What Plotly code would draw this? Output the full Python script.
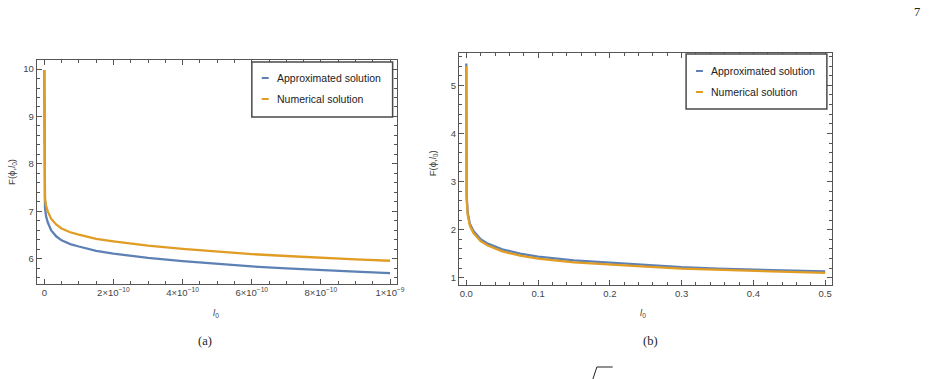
import plotly.graph_objects as go

# ---------------- data ----------------
# panel (a): l0 values
x_a = [0, 0.003e-10, 0.02e-10, 0.05e-10, 0.1e-10, 0.2e-10, 0.35e-10, 0.5e-10, 0.75e-10,
       1.0e-10, 1.5e-10, 2.0e-10, 3.0e-10, 4.0e-10, 5.0e-10, 6.0e-10, 7.0e-10, 8.0e-10,
       9.0e-10, 10.0e-10]
approx_a = [9.98, 7.40, 7.08, 6.90, 6.77, 6.60, 6.47, 6.39, 6.31,
            6.26, 6.17, 6.11, 6.02, 5.95, 5.89, 5.84, 5.80, 5.76, 5.73, 5.70]
numer_a = [9.98, 7.60, 7.28, 7.12, 7.00, 6.84, 6.72, 6.64, 6.56,
           6.51, 6.42, 6.37, 6.28, 6.21, 6.15, 6.10, 6.06, 6.02, 5.99, 5.96]

# panel (b)
x_b = [0, 0.0005, 0.002, 0.005, 0.01, 0.02, 0.03, 0.05, 0.075, 0.1, 0.15, 0.2,
       0.25, 0.3, 0.35, 0.4, 0.45, 0.5]
approx_b = [5.45, 2.70, 2.35, 2.12, 1.97, 1.80, 1.71, 1.59, 1.50, 1.44, 1.36, 1.31,
            1.26, 1.22, 1.19, 1.17, 1.15, 1.13]
numer_b = [5.40, 2.65, 2.30, 2.08, 1.93, 1.76, 1.67, 1.55, 1.46, 1.40, 1.32, 1.27,
           1.23, 1.19, 1.165, 1.14, 1.12, 1.10]

series_names = ["Approximated solution", "Numerical solution"]
series_colors = ["#5E81B5", "#E19C24"]

xa_tickvals = [0, 2e-10, 4e-10, 6e-10, 8e-10, 1e-9]
xa_ticktext = ["0", "2\u00d710<sup>\u221210</sup>", "4\u00d710<sup>\u221210</sup>",
               "6\u00d710<sup>\u221210</sup>", "8\u00d710<sup>\u221210</sup>",
               "1\u00d710<sup>\u22129</sup>"]

# ---------------- layout helpers ----------------
W, H = 937, 379
def px(x): return x / W
def py(y): return 1 - y / H

FRAME = "#555555"
TXT = "#444444"
SANS = "Liberation Sans, Arial, sans-serif"
SERIF = "Liberation Serif, DejaVu Serif, serif"

def axis(domain, rng, minor_dtick, **kw):
    d = dict(domain=domain, range=rng, showline=True, linecolor=FRAME, linewidth=1,
             mirror="allticks", ticks="inside", ticklen=5, tickwidth=1, tickcolor=FRAME,
             showgrid=False, zeroline=False,
             tickfont=dict(family=SANS, size=9.5, color=TXT),
             minor=dict(ticks="inside", ticklen=3, tickwidth=1, tickcolor=FRAME,
                        tickmode="linear", tick0=0, dtick=minor_dtick, showgrid=False))
    d.update(kw)
    return d

fig = go.Figure()

for xs, ys_list, xa, ya in [(x_a, [approx_a, numer_a], "x", "y"),
                             (x_b, [approx_b, numer_b], "x2", "y2")]:
    for name, col, ys in zip(series_names, series_colors, ys_list):
        fig.add_trace(go.Scatter(x=xs, y=ys, mode="lines", name=name,
                                 line=dict(color=col, width=2.3),
                                 xaxis=xa, yaxis=ya, showlegend=False))

fig.update_layout(
    width=W, height=H, autosize=False,
    margin=dict(l=0, r=0, t=0, b=0),
    paper_bgcolor="white", plot_bgcolor="white",
    xaxis=axis([px(37), px(400)], [-0.022e-9, 1.019e-9], 0.5e-10,
               tickmode="array", tickvals=xa_tickvals, ticktext=xa_ticktext),
    yaxis=axis([py(284), py(60)], [5.47, 10.19], 0.2, tickmode="linear", tick0=0, dtick=1),
    xaxis2=axis([px(463), px(839)], [-0.0101, 0.5093], 0.02, anchor="y2",
                tickmode="linear", tick0=0, dtick=0.1, tickformat=".1f"),
    yaxis2=axis([py(285), py(53)], [0.85, 5.67], 0.2, anchor="x2",
                tickmode="linear", tick0=0, dtick=1),
)

shapes = []
annotations = []

# manual legends (Mathematica style)
def legend(box, dash_x, text_x, rows_y):
    x0, y0, x1, y1 = box
    shapes.append(dict(type="rect", xref="paper", yref="paper",
                       x0=px(x0), x1=px(x1), y0=py(y1), y1=py(y0),
                       line=dict(color="#4a4a4a", width=1.5), fillcolor="white", layer="above"))
    for name, col, yy in zip(series_names, series_colors, rows_y):
        shapes.append(dict(type="line", xref="paper", yref="paper",
                           x0=px(dash_x[0]), x1=px(dash_x[1]), y0=py(yy), y1=py(yy),
                           line=dict(color=col, width=2), layer="above"))
        annotations.append(dict(text=name, xref="paper", yref="paper",
                                x=px(text_x), y=py(yy), xanchor="left", yanchor="middle",
                                showarrow=False, font=dict(family=SANS, size=10.5, color="#222")))

legend((254, 62, 396, 117), (264, 271), 277, [78, 99])
legend((692, 54, 834, 109), (702, 709), 715, [71, 92])

# axis titles
ytitle = "F(\u03d5,<i>l</i><sub>0</sub>)"
annotations += [
    dict(text=ytitle, x=px(12), y=py(172), textangle=-90),
    dict(text=ytitle, x=px(437), y=py(163), textangle=-90),
    dict(text="<i>l</i><sub>0</sub>", x=px(218), y=py(313)),
    dict(text="<i>l</i><sub>0</sub>", x=px(649), y=py(313)),
]
for a in annotations[-4:]:
    a.update(xref="paper", yref="paper", showarrow=False, xanchor="center", yanchor="middle",
             font=dict(family=SANS, size=9.5, color=TXT))

# captions and page number
annotations += [
    dict(text="(a)", x=px(207), y=py(341)),
    dict(text="(b)", x=px(656), y=py(341)),
    dict(text="7", x=px(925), y=py(12)),
]
for a in annotations[-3:]:
    a.update(xref="paper", yref="paper", showarrow=False, xanchor="center", yanchor="middle",
             font=dict(family=SERIF, size=12.5, color="#222"))

# cut-off fragment of caption at the bottom edge
shapes.append(dict(type="path", xref="paper", yref="paper",
                   path=f"M {px(598)},{py(379)} L {px(602)},{py(367)} L {px(618)},{py(367)}",
                   line=dict(color="#222", width=1)))

fig.update_layout(shapes=shapes, annotations=annotations)
fig.write_html("out.html")
